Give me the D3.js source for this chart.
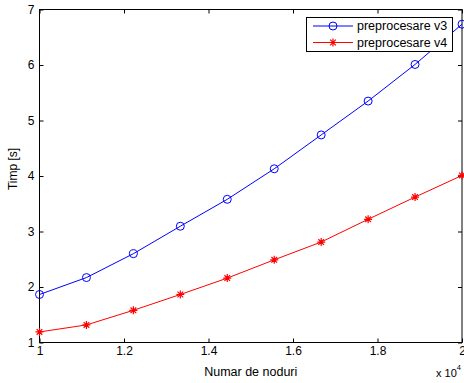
<!DOCTYPE html>
<html>
<head>
<meta charset="utf-8">
<script src="https://cdn.jsdelivr.net/npm/d3@7.9.0/dist/d3.min.js"></script>
<style>
  html, body { margin: 0; padding: 0; background: #fff; }
  svg { display: block; font-family: "Liberation Sans", Arial, sans-serif; }
</style>
</head>
<body>
<svg id="chart" width="464" height="383"></svg>
<script>
// node counts (x) and timings (y, seconds)
const noduri = [10000, 11111, 12222, 13333, 14444, 15556, 16667, 17778, 18889, 20000];
const timpV3 = [1.865, 2.17, 2.6, 3.095, 3.58, 4.13, 4.74, 5.35, 6.01, 6.735];
const timpV4 = [1.19, 1.317, 1.58, 1.865, 2.16, 2.49, 2.81, 3.22, 3.62, 4.01];
const xTicks = [10000, 12000, 14000, 16000, 18000, 20000];
const yTicks = [1, 2, 3, 4, 5, 6, 7];
const seriesNames = ['preprocesare v3', 'preprocesare v4'];

const svg = d3.select('#chart');
const pLeft = 39.5, pRight = 462, pTop = 9.5, pBottom = 342.5;

const x = d3.scaleLinear().domain([10000, 20000]).range([pLeft, pRight]);
const y = d3.scaleLinear().domain([1, 7]).range([pBottom, pTop]);

const tickLen = 4;
const fmtX = d => String(d / 10000);

// axes box
svg.append('rect')
  .attr('x', pLeft).attr('y', pTop)
  .attr('width', pRight - pLeft).attr('height', pBottom - pTop)
  .attr('fill', 'none').attr('stroke', '#000').attr('stroke-width', 1);

// ticks on all four sides, pointing inward
const xAxisB = d3.axisBottom(x).tickValues(xTicks).tickFormat(fmtX).tickSizeInner(-tickLen).tickSizeOuter(0).tickPadding(4);
const gxb = svg.append('g').attr('transform', `translate(0,${pBottom})`).call(xAxisB);
const xAxisT = d3.axisTop(x).tickValues(xTicks).tickFormat('').tickSizeInner(-tickLen).tickSizeOuter(0);
const gxt = svg.append('g').attr('transform', `translate(0,${pTop})`).call(xAxisT);

const yAxisL = d3.axisLeft(y).tickValues(yTicks).tickFormat(d3.format('d')).tickSizeInner(-tickLen).tickSizeOuter(0).tickPadding(5);
const gyl = svg.append('g').attr('transform', `translate(${pLeft},0)`).call(yAxisL);
const yAxisR = d3.axisRight(y).tickValues(yTicks).tickFormat('').tickSizeInner(-tickLen).tickSizeOuter(0);
const gyr = svg.append('g').attr('transform', `translate(${pRight},0)`).call(yAxisR);

[gxb, gxt, gyl, gyr].forEach(g => {
  g.select('.domain').remove();
  g.selectAll('line').attr('stroke', '#000');
  g.selectAll('text').attr('font-size', 12).attr('fill', '#000')
    .attr('font-family', '"Liberation Sans", Arial, sans-serif');
});

// axis labels
svg.append('text')
  .attr('x', (pLeft + pRight) / 2).attr('y', 375.5)
  .attr('text-anchor', 'middle').attr('font-size', 12.5)
  .text('Numar de noduri');

svg.append('text')
  .attr('transform', `translate(16.5,169) rotate(-90)`)
  .attr('text-anchor', 'middle').attr('font-size', 12)
  .text('Timp [s]');

// exponent of the x axis
const mult = svg.append('text').attr('x', 436).attr('y', 377).attr('font-size', 11);
mult.append('tspan').text('x 10');
mult.append('tspan').attr('dy', -7).attr('font-size', 7.5).text('4');

// series
const line = d3.line().x(d => x(d[0])).y(d => y(d[1]));
const v3 = noduri.map((n, i) => [n, timpV3[i]]);
const v4 = noduri.map((n, i) => [n, timpV4[i]]);

function star(g, cx, cy, r, color) {
  const d = r * Math.SQRT1_2;
  g.append('path')
    .attr('d', `M${cx - r},${cy}L${cx + r},${cy}M${cx},${cy - r}L${cx},${cy + r}` +
      `M${cx - d},${cy - d}L${cx + d},${cy + d}M${cx - d},${cy + d}L${cx + d},${cy - d}`)
    .attr('stroke', color).attr('stroke-width', 1.2).attr('fill', 'none');
}

svg.append('path').datum(v3).attr('d', line)
  .attr('fill', 'none').attr('stroke', '#0000ff').attr('stroke-width', 1);
svg.append('path').datum(v4).attr('d', line)
  .attr('fill', 'none').attr('stroke', '#ff0000').attr('stroke-width', 1);

svg.selectAll('circle.v3').data(v3).enter().append('circle')
  .attr('class', 'v3')
  .attr('cx', d => x(d[0])).attr('cy', d => y(d[1])).attr('r', 4)
  .attr('fill', 'none').attr('stroke', '#0000ff').attr('stroke-width', 1);

const gStars = svg.append('g');
v4.forEach(d => star(gStars, x(d[0]), y(d[1]), 4, '#ff0000'));

// legend
const lg = svg.append('g');
lg.append('rect')
  .attr('x', 306.5).attr('y', 17.5).attr('width', 146).attr('height', 34)
  .attr('fill', '#fff').attr('stroke', '#000').attr('stroke-width', 1);
const colors = ['#0000ff', '#ff0000'];
const rowY = [26, 42.5];
seriesNames.forEach((name, i) => {
  lg.append('line')
    .attr('x1', 313).attr('x2', 353).attr('y1', rowY[i]).attr('y2', rowY[i])
    .attr('stroke', colors[i]).attr('stroke-width', 1);
  if (i === 0) {
    lg.append('circle').attr('cx', 333).attr('cy', rowY[i]).attr('r', 4)
      .attr('fill', 'none').attr('stroke', colors[i]);
  } else {
    star(lg, 333, rowY[i], 4, colors[i]);
  }
  lg.append('text')
    .attr('x', 357).attr('y', rowY[i]).attr('dy', '0.35em')
    .attr('font-size', 12.5)
    .text(name);
});
</script>
</body>
</html>
